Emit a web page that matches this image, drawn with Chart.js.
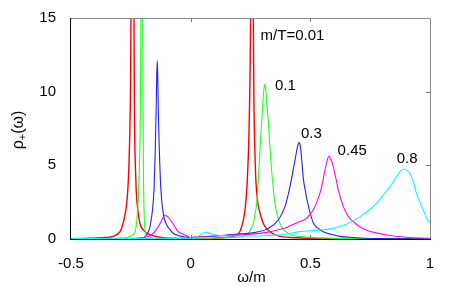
<!DOCTYPE html>
<html>
<head>
<meta charset="utf-8">
<script src="https://cdn.jsdelivr.net/npm/chart.js@4"></script>
<style>
  html, body { margin: 0; padding: 0; background: #fff; }
  #wrap { width: 457px; height: 287px; }
</style>
</head>
<body>
<div id="wrap"><canvas id="spec" width="457" height="287"></canvas></div>
<script>
// values (omega/m, rho_+)
const redX = [-0.5, -0.42, -0.36, -0.32, -0.295, -0.285, -0.275, -0.265, -0.257, -0.251, -0.247, -0.243, -0.239, -0.235, -0.229, -0.221, -0.212, -0.191, -0.17, -0.13, -0.08, 0, 0.08, 0.13, 0.178, 0.2, 0.213, 0.227, 0.236, 0.244, 0.25, 0.253, 0.256, 0.259, 0.264, 0.27, 0.278, 0.29, 0.305, 0.324, 0.36, 0.42, 0.55, 0.75, 1.0];
const redY = [0.02, 0.05, 0.1, 0.2, 0.5, 0.9, 1.6, 2.8, 5.5, 11, 22, 30, 22, 9, 4, 2, 1.07, 0.5, 0.3, 0.12, 0.05, 0.02, 0.04, 0.08, 0.18, 0.35, 0.84, 1.97, 3.8, 7.5, 14, 22, 30, 22, 10, 5, 2.8, 1.75, 1.0, 0.6, 0.25, 0.1, 0.04, 0.02, 0.01];

const greenX = [-0.5, -0.38, -0.3, -0.26, -0.24, -0.232, -0.226, -0.219, -0.214, -0.21, -0.207, -0.204, -0.201, -0.198, -0.194, -0.19, -0.184, -0.175, -0.16, -0.12, -0.05, 0, 0.08, 0.15, 0.2, 0.225, 0.241, 0.252, 0.262, 0.27, 0.276, 0.285, 0.292, 0.297, 0.303, 0.307, 0.310, 0.314, 0.319, 0.324, 0.331, 0.338, 0.345, 0.352, 0.362, 0.373, 0.39, 0.408, 0.435, 0.464, 0.52, 0.65, 0.8, 1.0];
const greenY = [0.01, 0.03, 0.06, 0.14, 0.3, 0.5, 1.1, 2.65, 5, 9, 17, 30, 17, 6, 1.5, 0.6, 0.27, 0.15, 0.06, 0.03, 0.02, 0.02, 0.04, 0.08, 0.12, 0.22, 0.39, 0.7, 1.07, 1.8, 2.42, 4.68, 6.8, 8.08, 9.6, 10.3, 10.5, 10.1, 9.0, 8.08, 6.3, 4.68, 3.5, 2.44, 1.6, 1.07, 0.6, 0.39, 0.22, 0.16, 0.08, 0.04, 0.02, 0.01];

const blueX = [-0.5, -0.35, -0.25, -0.2, -0.184, -0.17, -0.16, -0.153, -0.148, -0.144, -0.1415, -0.1395, -0.1375, -0.135, -0.131, -0.126, -0.121, -0.112, -0.1, -0.085, -0.073, -0.055, -0.03, -0.01, 0, 0.01, 0.05, 0.1, 0.15, 0.213, 0.269, 0.324, 0.366, 0.394, 0.415, 0.436, 0.447, 0.4526, 0.458, 0.465, 0.47, 0.48, 0.491, 0.502, 0.512, 0.53, 0.554, 0.59, 0.624, 0.68, 0.735, 0.85, 1.0];
const blueY = [0.0, 0.01, 0.03, 0.08, 0.27, 0.84, 1.9, 3.4, 6, 9, 11.3, 12.1, 11, 8.5, 6, 3.8, 2.65, 1.5, 0.95, 0.6, 0.39, 0.25, 0.15, 0.1, 0.02, 0.12, 0.15, 0.2, 0.27, 0.35, 0.45, 0.72, 1.29, 2.2, 3.55, 5.36, 6.3, 6.54, 6.3, 5.2, 4.2, 3.2, 2.3, 1.6, 1.1, 0.75, 0.5, 0.3, 0.18, 0.1, 0.05, 0.02, 0.01];

const magentaX = [-0.5, -0.3, -0.22, -0.18, -0.156, -0.135, -0.12, -0.107, -0.095, -0.079, -0.065, -0.052, -0.035, -0.017, -0.005, 0, 0.01, 0.04, 0.1, 0.178, 0.269, 0.318, 0.36, 0.394, 0.43, 0.46, 0.48, 0.5, 0.512, 0.527, 0.54, 0.552, 0.561, 0.57, 0.578, 0.585, 0.596, 0.607, 0.617, 0.628, 0.638, 0.66, 0.68, 0.71, 0.735, 0.78, 0.819, 0.9, 1.0];
const magentaY = [0.0, 0.01, 0.05, 0.15, 0.39, 0.84, 1.3, 1.63, 1.5, 1.17, 0.8, 0.5, 0.35, 0.22, 0.1, 0.02, 0.1, 0.16, 0.2, 0.25, 0.35, 0.45, 0.6, 0.75, 1.0, 1.2, 1.35, 1.7, 1.97, 2.5, 3.1, 3.9, 4.68, 5.3, 5.63, 5.45, 4.9, 4.1, 3.33, 2.7, 2.2, 1.5, 1.17, 0.8, 0.6, 0.4, 0.27, 0.12, 0.05];

const cyanX = [-0.5, -0.3, -0.1, -0.02, 0, 0.02, 0.04, 0.055, 0.067, 0.08, 0.095, 0.109, 0.14, 0.2, 0.3, 0.386, 0.457, 0.53, 0.596, 0.65, 0.707, 0.745, 0.777, 0.805, 0.833, 0.855, 0.875, 0.891, 0.905, 0.916, 0.93, 0.944, 0.958, 0.972, 0.985, 1.0];
const cyanY = [0.03, 0.03, 0.04, 0.05, 0.02, 0.1, 0.27, 0.4, 0.45, 0.4, 0.32, 0.27, 0.22, 0.2, 0.22, 0.3, 0.5, 0.6, 0.72, 1.0, 1.5, 1.95, 2.42, 3.0, 3.55, 4.1, 4.57, 4.75, 4.65, 4.46, 3.9, 3.1, 2.5, 1.97, 1.45, 1.1];

// curve labels: text and where they sit (data units)
const curveLabels = ['m/T=0.01', '0.1', '0.3', '0.45', '0.8'];
const labelX = [0.292, 0.352, 0.461, 0.614, 0.861];
const labelY = [13.5, 10.12, 6.84, 5.70, 5.14];

const xTicks = [-0.5, 0, 0.5, 1];
const yTicks = [0, 5, 10, 15];

const FONT = '"Liberation Sans", Arial, Helvetica, sans-serif';

function pts(xs, ys) {
  return xs.map((x, i) => ({ x: x, y: ys[i] }));
}

function line(data, color, width) {
  return {
    data: data,
    borderColor: color,
    borderWidth: width,
    pointRadius: 0,
    showLine: true,
    fill: false,
    cubicInterpolationMode: 'monotone',
  };
}

const frame = {
  id: 'frame',
  afterDraw(chart) {
    const ctx = chart.ctx;
    const a = chart.chartArea;
    const xs = chart.scales.x, ys = chart.scales.y;
    ctx.save();

    // gnuplot-like border
    ctx.lineWidth = 1;
    ctx.strokeStyle = '#888';
    ctx.beginPath();
    ctx.moveTo(a.left, a.top + 0.5);
    ctx.lineTo(a.right + 0.5, a.top + 0.5);
    ctx.lineTo(a.right + 0.5, a.bottom);
    ctx.stroke();
    ctx.strokeStyle = '#000';
    ctx.beginPath();
    ctx.moveTo(a.left - 0.5, a.top);
    ctx.lineTo(a.left - 0.5, a.bottom + 0.5);
    ctx.lineTo(a.right + 1, a.bottom + 0.5);
    ctx.stroke();

    // inward tick marks
    ctx.strokeStyle = '#777';
    ctx.beginPath();
    xTicks.slice(1, -1).forEach(v => {
      const px = Math.round(xs.getPixelForValue(v)) + 0.5;
      ctx.moveTo(px, a.top); ctx.lineTo(px, a.top + 4);
      ctx.moveTo(px, a.bottom); ctx.lineTo(px, a.bottom - 4);
    });
    yTicks.slice(1, -1).forEach(v => {
      const py = Math.round(ys.getPixelForValue(v)) + 0.5;
      ctx.moveTo(a.right, py); ctx.lineTo(a.right - 4, py);
    });
    ctx.stroke();

    // curve labels
    ctx.fillStyle = '#000';
    ctx.font = '15px ' + FONT;
    ctx.textAlign = 'left';
    ctx.textBaseline = 'alphabetic';
    curveLabels.forEach((t, i) => {
      ctx.fillText(t, xs.getPixelForValue(labelX[i]), ys.getPixelForValue(labelY[i]));
    });

    // x axis title
    ctx.textAlign = 'center';
    ctx.fillText('ω/m', (a.left + a.right) / 2 + 1, 282);

    // y axis title, rho with subscript plus
    ctx.translate(23, 130);
    ctx.rotate(-Math.PI / 2);
    ctx.textAlign = 'left';
    ctx.font = '16px ' + FONT;
    const w1 = ctx.measureText('ρ').width;
    const w3 = ctx.measureText('(ω)').width;
    ctx.font = '11px ' + FONT;
    const w2 = ctx.measureText('+').width;
    let x0 = -(w1 + w2 + w3) / 2;
    ctx.font = '16px ' + FONT;
    ctx.fillText('ρ', x0, 0);
    ctx.font = '11px ' + FONT;
    ctx.fillText('+', x0 + w1, 3);
    ctx.font = '16px ' + FONT;
    ctx.fillText('(ω)', x0 + w1 + w2, 0);
    ctx.restore();
  }
};

new Chart(document.getElementById('spec'), {
  type: 'scatter',
  data: {
    datasets: [
      line(pts(cyanX, cyanY), '#00ffff', 1.1),
      line(pts(magentaX, magentaY), '#ff00ff', 1.1),
      line(pts(blueX, blueY), '#2020ff', 1.1),
      line(pts(greenX, greenY), '#20ff20', 1.1),
      line(pts(redX, redY), '#ff0000', 1.4),
    ]
  },
  options: {
    responsive: false,
    animation: false,
    layout: { padding: { left: 0, top: 18, right: 27, bottom: 0 } },
    plugins: {
      legend: { display: false },
      title: { display: false },
      tooltip: { enabled: false },
    },
    scales: {
      x: {
        type: 'linear',
        min: -0.5,
        max: 1,
        afterBuildTicks: s => { s.ticks = xTicks.map(v => ({ value: v })); },
        grid: { display: false },
        border: { display: false },
        ticks: {
          color: '#000',
          font: { family: FONT, size: 15 },
          padding: 8,
          maxRotation: 0,
          callback: v => String(v),
        },
        afterFit: s => { s.height = 48; },
      },
      y: {
        type: 'linear',
        min: 0,
        max: 15,
        afterBuildTicks: s => { s.ticks = yTicks.map(v => ({ value: v })); },
        grid: { display: false },
        border: { display: false },
        ticks: { color: '#000', font: { family: FONT, size: 15 }, padding: 7, callback: v => String(v) },
        afterFit: s => { s.width = 71; },
      }
    }
  },
  plugins: [frame]
});
</script>
</body>
</html>
